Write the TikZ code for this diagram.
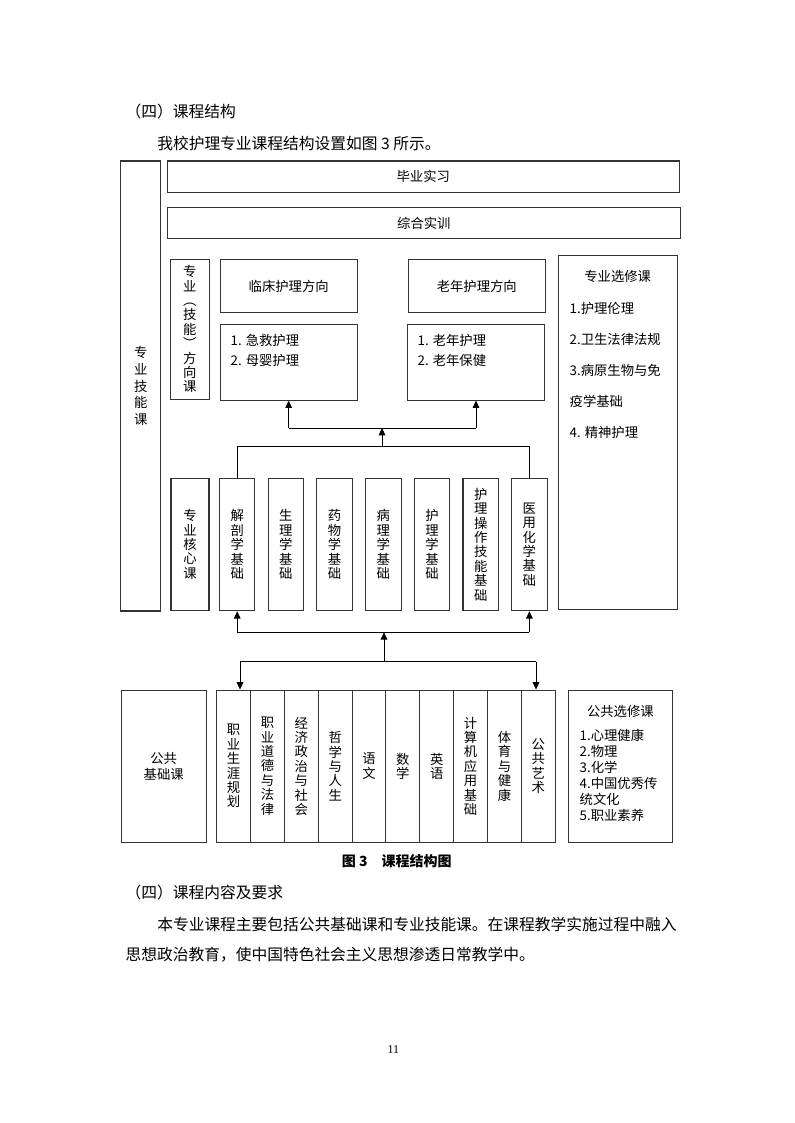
\documentclass[tikz,border=0pt]{standalone}
\usepackage{fontspec}
\setmainfont{Noto Sans CJK SC}
\newfontfamily\pagefont{Liberation Serif}
\usetikzlibrary{arrows.meta}

\tikzset{
  box/.style={draw=black!80, line width=0.8pt, inner sep=0pt, font=\fontsize{10}{12}\selectfont},
  vtext/.style={align=center, font=\fontsize{10}{10.8}\selectfont},
  arr/.style={line width=0.6pt, -{Triangle[length=5.5pt,width=5pt]}},
  link/.style={line width=0.6pt},
  body/.style={anchor=west, font=\fontsize{11.8}{14}\selectfont}
}

\begin{document}
\begin{tikzpicture}[x=0.75pt, y=-0.75pt]
  \useasboundingbox[fill=white] (0,0) rectangle (794,1123);

  % page text
  \node[body] (head1) at (121,111.7) {（四）课程结构};
  \node[body] (intro) at (152.6,143.3) {我校护理专业课程结构设置如图 3 所示。};

  % upper part
  \node[box, vtext, font=\fontsize{10}{12.5}\selectfont, minimum width=30pt, minimum height=337.5pt] (skill) at (140.7,386) {专\\业\\技\\能\\课};
  \node[box, minimum width=384.4pt, minimum height=23.5pt] (grad) at (423.3,176.7) {毕业实习};
  \node[box, minimum width=385.3pt, minimum height=23pt] (train) at (423.9,223) {综合实训};
  \node[box, vtext, minimum width=28.7pt, minimum height=105pt] (dirc) at (189.9,329.3) {专\\业\\︵\\技\\能\\︶\\方\\向\\课};
  \node[box, minimum width=103pt, minimum height=40pt] (clin) at (288.7,286) {临床护理方向};
  \node[box, minimum width=103pt, minimum height=56.8pt] (clist) at (288.7,362.2) {};
  \node[anchor=west, align=left, font=\fontsize{10}{15}\selectfont] (clistt) at (226,350.7) {1. 急救护理\\2. 母婴护理};
  \node[box, minimum width=103pt, minimum height=40pt] (geri) at (476.8,286) {老年护理方向};
  \node[box, minimum width=103pt, minimum height=56.8pt] (glist) at (476,362.2) {};
  \node[anchor=west, align=left, font=\fontsize{10}{15}\selectfont] (glistt) at (413,350.7) {1. 老年护理\\2. 老年保健};
  \node[box, minimum width=89.8pt, minimum height=265.3pt] (pelec) at (617.9,432.2) {};
  \node[font=\fontsize{10}{12}\selectfont] (pelect) at (617.7,276.7) {专业选修课};
  \node[anchor=west, align=left, font=\fontsize{10}{23.3}\selectfont] (pelecl) at (565,370.5)
    {1.护理伦理\\2.卫生法律法规\\3.病原生物与免\\疫学基础\\4. 精神护理};

  % core courses
  \node[box, vtext, minimum width=28.5pt, minimum height=99.3pt] (core) at (190,544.5) {专\\业\\核\\心\\课};
  \foreach \t [count=\i from 0] in {{解\\剖\\学\\基\\础}, {生\\理\\学\\基\\础}, {药\\物\\学\\基\\础},
      {病\\理\\学\\基\\础}, {护\\理\\学\\基\\础}, {护\\理\\操\\作\\技\\能\\基\\础}, {医\\用\\化\\学\\基\\础}}
    \node[box, vtext, minimum width=26.6pt, minimum height=99.3pt] (cb\i) at ({237.2+48.7*\i},544.5) {\t};

  % public courses
  \node[box, align=center, font=\fontsize{10}{12.2}\selectfont, minimum width=64pt, minimum height=114.2pt] (pub) at (163.7,766.2) {公共\\基础课};
  \foreach \t [count=\i from 0] in {{职\\业\\生\\涯\\规\\划}, {职\\业\\道\\德\\与\\法\\律}, {经\\济\\政\\治\\与\\社\\会},
      {哲\\学\\与\\人\\生}, {语\\文}, {数\\学}, {英\\语}, {计\\算\\机\\应\\用\\基\\础}, {体\\育\\与\\健\\康}, {公\\共\\艺\\术}}
    \node[box, vtext, minimum width=25.4pt, minimum height=114.2pt] (pc\i) at ({216.7+33.85*(\i+0.5)},766.2) {\t};
  \node[box, minimum width=77.8pt, minimum height=114.2pt] (gelec) at (620.4,766.2) {};
  \node[font=\fontsize{10}{12}\selectfont] (gelect) at (620.4,711.7) {公共选修课};
  \node[anchor=west, align=left, font=\fontsize{10}{12}\selectfont] (gelecl) at (575,775)
    {1.心理健康\\2.物理\\3.化学\\4.中国优秀传\\统文化\\5.职业素养};

  % connectors to the directions
  \coordinate (up1) at (382,428);
  \coordinate (up2) at (382,446.7);
  \draw[arr] (up2) -- (up1);
  \draw[link] (up1 -| clist.south) -- (up1 -| glist.south);
  \draw[arr] (up1 -| clist.south) -- (clist.south);
  \draw[arr] (up1 -| glist.south) -- (glist.south);
  \draw[link] (cb0.north) -- (cb0.north |- up2) -- (cb6.north |- up2) -- (cb6.north);

  % connectors from the public courses
  \coordinate (lo1) at (384,632.3);
  \coordinate (lo2) at (384,661.7);
  \coordinate (dl) at (240,661.7);
  \coordinate (dr) at (536,661.7);
  \draw[arr] (lo2) -- (lo1);
  \draw[link] (lo1 -| cb0.south) -- (lo1 -| cb6.south);
  \draw[arr] (lo1 -| cb0.south) -- (cb0.south);
  \draw[arr] (lo1 -| cb6.south) -- (cb6.south);
  \draw[link] (dl) -- (dr);
  \draw[arr] (dl) -- (dl |- pc0.north);
  \draw[arr] (dr) -- (dr |- pc9.north);

  % caption and following text
  \node[font=\fontsize{10.5}{12}\selectfont\bfseries] (cap) at (396.7,861) {图 3\quad 课程结构图};
  \node[body] (head2) at (121,892.3) {（四）课程内容及要求};
  \node[body] (para1) at (152.6,924.3) {本专业课程主要包括公共基础课和专业技能课。在课程教学实施过程中融入};
  \node[body] (para2) at (121,955) {思想政治教育，使中国特色社会主义思想渗透日常教学中。};
  \node[font=\pagefont\fontsize{9}{10}\selectfont] (pnum) at (393.3,1050) {11};
\end{tikzpicture}
\end{document}
